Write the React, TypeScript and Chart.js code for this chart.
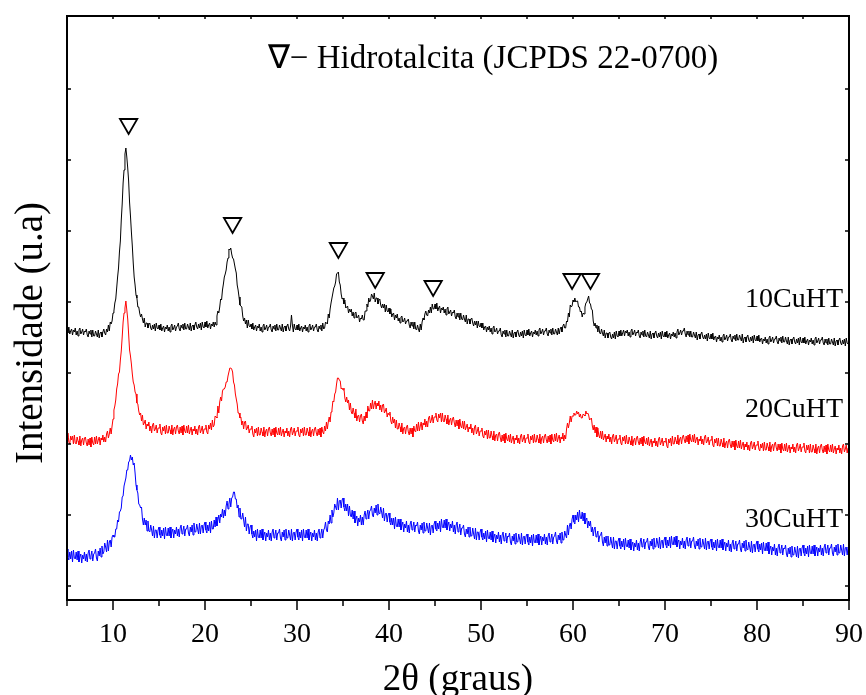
import React, { useEffect, useRef } from "react";
import { Chart, registerables } from "chart.js";
Chart.register(...registerables);

// Scan grid (2θ, degrees)
const twoThetaStart = 5;
const twoThetaStep = 0.1;

// Intensities (a.u., already offset per sample), one value per 0.1° from 5° to 90° (one row per degree)
const int10CuHT = [
  272, 267, 273, 266, 269, 271, 265, 270, 268, 272,
  265, 269, 264, 270, 272, 266, 268, 271, 265, 269,
  268, 271, 265, 263, 269, 266, 270, 263, 270, 264,
  264, 269, 266, 263, 270, 262, 267, 268, 263, 268,
  271, 267, 265, 271, 268, 275, 269, 278, 276, 279,
  287, 289, 297, 301, 312, 323, 332, 348, 359, 380,
  396, 417, 430, 446, 452, 443, 432, 419, 398, 384,
  368, 354, 337, 323, 315, 305, 302, 293, 293, 287,
  283, 286, 281, 277, 282, 273, 277, 277, 272, 276,
  277, 272, 270, 275, 271, 276, 269, 277, 272, 271,
  275, 270, 276, 269, 272, 274, 268, 273, 271, 275,
  269, 273, 268, 274, 276, 270, 272, 275, 269, 273,
  274, 277, 271, 269, 275, 272, 276, 270, 277, 271,
  271, 276, 273, 270, 277, 269, 274, 275, 270, 275,
  278, 273, 271, 276, 272, 277, 270, 278, 273, 272,
  278, 273, 279, 272, 275, 277, 271, 276, 274, 278,
  273, 278, 275, 284, 289, 287, 293, 301, 300, 310,
  316, 323, 326, 330, 338, 342, 351, 350, 352, 346,
  342, 341, 336, 331, 327, 315, 310, 303, 295, 294,
  293, 284, 279, 282, 276, 280, 272, 280, 274, 273,
  276, 271, 277, 270, 273, 275, 269, 274, 272, 276,
  269, 273, 268, 274, 276, 270, 272, 275, 269, 273,
  273, 276, 270, 268, 274, 271, 275, 269, 276, 270,
  270, 275, 272, 269, 276, 268, 273, 274, 269, 274,
  276, 271, 269, 274, 285, 275, 268, 276, 271, 270,
  275, 270, 276, 269, 272, 274, 268, 273, 271, 275,
  269, 273, 268, 274, 276, 270, 272, 275, 269, 273,
  273, 276, 270, 268, 274, 271, 275, 269, 277, 271,
  272, 278, 277, 276, 286, 282, 291, 297, 297, 307,
  312, 314, 318, 326, 327, 328, 318, 315, 306, 301,
  302, 296, 300, 292, 293, 294, 287, 291, 288, 291,
  284, 288, 282, 287, 288, 282, 283, 285, 278, 282,
  281, 285, 280, 280, 289, 289, 296, 293, 302, 298,
  300, 306, 304, 301, 307, 298, 302, 302, 296, 300,
  301, 295, 292, 296, 292, 296, 288, 295, 289, 288,
  292, 286, 291, 283, 286, 287, 280, 285, 282, 286,
  279, 282, 277, 283, 284, 278, 279, 282, 276, 279,
  279, 281, 275, 272, 278, 274, 278, 271, 278, 271,
  270, 275, 271, 268, 276, 270, 278, 282, 280, 286,
  289, 285, 284, 290, 287, 293, 287, 296, 291, 291,
  296, 291, 297, 289, 292, 294, 287, 292, 290, 293,
  287, 291, 285, 291, 293, 286, 288, 290, 284, 288,
  287, 290, 283, 281, 287, 283, 287, 280, 287, 281,
  280, 285, 281, 278, 285, 276, 281, 281, 276, 281,
  282, 277, 274, 279, 275, 279, 272, 279, 274, 273,
  277, 272, 277, 270, 273, 274, 268, 273, 270, 274,
  268, 272, 266, 272, 274, 268, 269, 272, 266, 269,
  269, 272, 265, 263, 269, 266, 270, 263, 270, 264,
  264, 269, 266, 263, 270, 262, 267, 268, 263, 268,
  270, 265, 263, 268, 264, 269, 262, 270, 265, 264,
  270, 265, 271, 264, 267, 269, 263, 268, 266, 270,
  265, 269, 264, 270, 272, 266, 268, 271, 265, 269,
  269, 272, 266, 264, 270, 267, 271, 265, 272, 266,
  266, 271, 268, 265, 272, 266, 271, 273, 268, 274,
  276, 272, 272, 279, 278, 287, 283, 295, 293, 294,
  300, 298, 302, 298, 299, 299, 293, 293, 288, 289,
  283, 287, 286, 293, 297, 298, 301, 304, 297, 296,
  291, 290, 279, 274, 277, 272, 275, 268, 274, 267,
  266, 271, 267, 264, 270, 262, 267, 267, 262, 267,
  268, 263, 261, 266, 262, 268, 261, 269, 264, 263,
  269, 264, 270, 264, 267, 270, 264, 269, 267, 270,
  264, 268, 263, 269, 271, 265, 267, 270, 264, 268,
  267, 270, 264, 262, 268, 265, 269, 263, 270, 264,
  263, 268, 265, 262, 269, 261, 266, 267, 262, 267,
  269, 264, 262, 267, 263, 268, 261, 269, 264, 263,
  268, 263, 269, 262, 265, 267, 261, 266, 264, 268,
  263, 267, 262, 268, 271, 265, 267, 270, 265, 269,
  269, 272, 266, 263, 269, 265, 269, 263, 269, 263,
  263, 268, 265, 262, 268, 260, 265, 266, 261, 266,
  268, 263, 261, 265, 261, 266, 259, 267, 262, 261,
  266, 261, 267, 260, 263, 264, 258, 263, 261, 265,
  259, 263, 258, 264, 266, 260, 262, 265, 259, 263,
  263, 266, 260, 258, 264, 261, 265, 259, 266, 260,
  260, 265, 262, 259, 266, 257, 262, 263, 258, 263,
  265, 260, 258, 263, 259, 264, 257, 265, 260, 259,
  264, 259, 265, 258, 261, 262, 256, 261, 259, 263,
  257, 261, 256, 262, 264, 258, 260, 263, 257, 261,
  261, 264, 258, 256, 262, 259, 263, 257, 264, 258,
  258, 263, 259, 256, 263, 255, 260, 261, 256, 261,
  263, 258, 256, 261, 257, 262, 255, 263, 258, 257,
  262, 257, 263, 256, 259, 261, 255, 260, 258, 262,
  256, 260, 255, 261, 263, 257, 259, 262, 256, 260,
  260, 263, 257, 255, 261, 257, 261, 255, 262, 256,
  256, 261, 258, 255, 262, 254, 259, 260, 255, 260,
  262, 257, 255, 260, 256, 261, 254, 262, 257, 256,
  258,
];

const int20CuHT = [
  163, 167, 158, 156, 164, 160, 164, 156, 165, 157,
  156, 163, 159, 155, 164, 154, 160, 162, 155, 162,
  163, 157, 154, 161, 155, 162, 153, 163, 157, 155,
  163, 156, 164, 156, 160, 163, 155, 162, 160, 165,
  158, 163, 158, 166, 169, 162, 166, 172, 166, 174,
  181, 190, 194, 200, 211, 216, 226, 228, 240, 249,
  263, 278, 287, 292, 299, 290, 281, 266, 250, 244,
  236, 226, 218, 215, 208, 206, 197, 196, 189, 185,
  187, 179, 185, 175, 177, 180, 171, 176, 174, 178,
  169, 174, 167, 175, 177, 169, 171, 175, 167, 172,
  172, 176, 167, 165, 173, 169, 174, 166, 175, 167,
  167, 174, 170, 166, 175, 165, 171, 173, 166, 173,
  175, 169, 166, 173, 167, 174, 165, 175, 169, 167,
  174, 167, 175, 166, 170, 173, 165, 171, 169, 174,
  166, 171, 165, 173, 175, 167, 170, 174, 166, 171,
  171, 175, 168, 166, 175, 171, 177, 170, 180, 173,
  175, 184, 183, 182, 194, 187, 198, 203, 199, 209,
  211, 211, 213, 218, 218, 224, 224, 232, 232, 231,
  228, 218, 215, 206, 201, 196, 187, 187, 182, 183,
  175, 179, 171, 178, 179, 170, 172, 175, 167, 171,
  171, 174, 166, 163, 171, 167, 172, 164, 173, 165,
  165, 172, 168, 164, 173, 163, 169, 171, 164, 171,
  173, 167, 164, 171, 165, 172, 163, 173, 167, 165,
  172, 165, 173, 164, 168, 171, 163, 169, 167, 172,
  164, 169, 163, 171, 173, 165, 168, 172, 164, 169,
  169, 173, 165, 163, 171, 167, 172, 164, 173, 165,
  165, 172, 168, 164, 173, 163, 169, 171, 164, 171,
  173, 167, 164, 171, 165, 172, 163, 173, 168, 166,
  174, 169, 178, 171, 178, 183, 178, 188, 190, 199,
  198, 206, 208, 216, 222, 222, 220, 219, 211, 212,
  210, 212, 202, 198, 203, 197, 200, 190, 197, 188,
  186, 192, 187, 182, 191, 179, 184, 185, 178, 184,
  186, 179, 176, 184, 179, 188, 182, 194, 189, 189,
  197, 191, 200, 191, 196, 199, 191, 197, 194, 199,
  190, 195, 188, 195, 196, 187, 189, 192, 183, 187,
  185, 188, 179, 176, 183, 177, 181, 172, 180, 171,
  171, 177, 173, 168, 177, 166, 172, 173, 166, 173,
  175, 168, 165, 172, 166, 172, 163, 174, 169, 168,
  176, 169, 178, 169, 174, 178, 170, 177, 175, 181,
  173, 179, 173, 182, 184, 177, 180, 185, 177, 183,
  183, 187, 180, 178, 186, 182, 187, 178, 187, 179,
  178, 185, 181, 176, 185, 175, 180, 182, 175, 181,
  183, 177, 173, 180, 174, 180, 171, 181, 174, 172,
  179, 171, 179, 170, 173, 176, 168, 173, 171, 176,
  167, 172, 165, 173, 175, 166, 169, 173, 164, 169,
  169, 172, 164, 162, 169, 165, 170, 161, 170, 162,
  162, 169, 164, 160, 169, 159, 165, 166, 159, 166,
  168, 162, 158, 165, 159, 166, 157, 167, 161, 159,
  165, 158, 166, 157, 161, 164, 156, 162, 160, 165,
  157, 162, 156, 164, 166, 158, 161, 165, 157, 162,
  162, 166, 158, 156, 164, 160, 165, 157, 166, 158,
  158, 165, 161, 157, 166, 156, 162, 164, 157, 164,
  166, 160, 157, 164, 158, 165, 156, 166, 160, 158,
  166, 159, 167, 158, 162, 165, 157, 163, 161, 167,
  159, 165, 161, 171, 177, 172, 177, 184, 178, 184,
  184, 187, 185, 185, 189, 186, 188, 183, 186, 182,
  182, 186, 185, 184, 189, 186, 187, 185, 180, 181,
  182, 174, 170, 175, 167, 173, 163, 172, 165, 162,
  169, 161, 169, 160, 163, 166, 158, 164, 161, 166,
  158, 163, 156, 164, 166, 158, 161, 165, 156, 161,
  161, 165, 157, 155, 163, 159, 164, 156, 165, 157,
  156, 163, 159, 155, 164, 154, 160, 162, 155, 162,
  164, 158, 155, 162, 156, 163, 154, 164, 158, 156,
  162, 155, 163, 154, 158, 161, 153, 159, 157, 162,
  154, 159, 153, 161, 163, 155, 158, 162, 154, 159,
  158, 162, 154, 152, 161, 157, 162, 154, 164, 156,
  156, 163, 159, 156, 165, 155, 161, 163, 156, 163,
  165, 160, 157, 164, 158, 165, 156, 166, 160, 158,
  165, 158, 166, 157, 161, 163, 155, 161, 159, 164,
  156, 161, 155, 163, 165, 157, 159, 163, 155, 160,
  160, 164, 155, 153, 161, 157, 162, 154, 162, 154,
  154, 161, 157, 153, 162, 152, 157, 159, 152, 159,
  161, 155, 152, 159, 153, 159, 150, 160, 154, 152,
  159, 152, 160, 151, 155, 158, 150, 156, 153, 158,
  150, 155, 149, 157, 159, 151, 154, 158, 150, 155,
  155, 159, 151, 149, 156, 152, 157, 149, 158, 150,
  150, 157, 153, 149, 158, 148, 154, 156, 149, 156,
  158, 152, 149, 156, 150, 156, 147, 157, 151, 149,
  156, 149, 157, 148, 152, 155, 147, 153, 151, 156,
  148, 153, 147, 155, 157, 149, 152, 156, 148, 153,
  153, 157, 149, 147, 155, 150, 155, 147, 156, 148,
  148, 155, 151, 147, 156, 146, 152, 154, 147, 154,
  156, 150, 147, 154, 148, 155, 146, 156, 150, 148,
  155, 148, 156, 147, 151, 154, 146, 152, 150, 155,
  147, 152, 146, 154, 156, 148, 151, 155, 147, 152,
  151,
];

const int30CuHT = [
  51, 43, 40, 48, 41, 49, 38, 50, 42, 41,
  48, 40, 49, 38, 43, 46, 37, 45, 41, 48,
  39, 46, 38, 47, 50, 41, 44, 49, 39, 46,
  47, 51, 42, 39, 49, 44, 52, 43, 54, 46,
  48, 57, 53, 48, 60, 49, 58, 60, 53, 63,
  65, 63, 63, 71, 71, 80, 78, 88, 89, 92,
  103, 104, 114, 114, 122, 130, 130, 138, 139, 145,
  140, 143, 135, 137, 127, 115, 110, 107, 96, 95,
  92, 93, 81, 75, 82, 75, 80, 69, 79, 69,
  68, 75, 70, 64, 74, 62, 70, 70, 62, 70,
  73, 65, 62, 70, 64, 72, 61, 73, 65, 64,
  72, 64, 73, 62, 68, 71, 62, 70, 66, 73,
  64, 71, 63, 72, 75, 66, 69, 74, 64, 71,
  71, 75, 67, 64, 73, 68, 75, 65, 77, 68,
  68, 76, 71, 66, 77, 66, 74, 75, 67, 75,
  78, 70, 67, 75, 69, 78, 67, 79, 71, 71,
  80, 73, 83, 74, 80, 85, 77, 86, 83, 91,
  82, 90, 84, 94, 99, 91, 96, 102, 93, 102,
  103, 108, 108, 101, 101, 92, 95, 83, 92, 81,
  81, 87, 80, 73, 83, 69, 76, 76, 66, 73,
  75, 66, 62, 69, 63, 70, 59, 71, 63, 62,
  70, 62, 71, 60, 65, 68, 59, 67, 63, 70,
  60, 67, 59, 68, 71, 62, 65, 70, 60, 67,
  67, 71, 62, 59, 68, 63, 70, 60, 71, 62,
  62, 70, 65, 60, 71, 59, 67, 68, 60, 68,
  71, 63, 60, 68, 62, 70, 59, 71, 63, 62,
  70, 62, 71, 60, 65, 68, 59, 67, 63, 70,
  60, 67, 59, 68, 71, 62, 66, 71, 62, 70,
  72, 78, 70, 68, 79, 76, 85, 77, 90, 83,
  87, 96, 93, 90, 102, 90, 99, 100, 92, 100,
  102, 93, 89, 96, 89, 96, 84, 94, 85, 83,
  90, 81, 89, 77, 81, 84, 74, 82, 78, 85,
  75, 83, 75, 85, 89, 81, 85, 90, 81, 89,
  90, 94, 85, 83, 92, 87, 95, 85, 96, 87,
  86, 93, 88, 82, 92, 79, 86, 87, 78, 85,
  87, 78, 75, 82, 75, 82, 71, 83, 74, 73,
  81, 73, 81, 70, 75, 78, 68, 76, 72, 79,
  68, 75, 67, 76, 79, 70, 73, 78, 68, 75,
  74, 78, 69, 66, 75, 70, 77, 67, 78, 69,
  69, 77, 72, 67, 77, 65, 74, 75, 67, 76,
  79, 71, 69, 77, 71, 79, 68, 81, 73, 72,
  80, 72, 81, 70, 75, 78, 69, 76, 72, 79,
  68, 75, 66, 75, 78, 68, 71, 76, 65, 72,
  72, 75, 66, 63, 71, 66, 73, 63, 73, 64,
  64, 72, 66, 61, 72, 60, 68, 68, 60, 68,
  71, 63, 60, 67, 61, 69, 58, 70, 62, 61,
  68, 60, 69, 58, 63, 66, 57, 65, 61, 68,
  58, 65, 56, 65, 68, 59, 62, 67, 57, 64,
  63, 67, 58, 55, 64, 59, 66, 56, 67, 58,
  58, 66, 61, 56, 67, 55, 63, 64, 56, 64,
  66, 58, 55, 63, 57, 65, 54, 66, 58, 57,
  65, 57, 66, 55, 60, 64, 55, 63, 59, 66,
  56, 63, 55, 64, 67, 58, 61, 66, 56, 63,
  64, 68, 59, 56, 65, 60, 67, 57, 68, 60,
  60, 69, 65, 62, 75, 65, 74, 77, 71, 81,
  85, 78, 76, 85, 80, 88, 78, 90, 82, 81,
  88, 79, 87, 76, 80, 82, 72, 79, 74, 79,
  68, 73, 64, 71, 73, 63, 65, 69, 58, 64,
  65, 68, 58, 54, 63, 57, 64, 54, 64, 55,
  55, 63, 57, 52, 63, 51, 59, 59, 51, 59,
  62, 54, 51, 59, 53, 61, 50, 62, 54, 53,
  60, 52, 61, 50, 55, 58, 49, 57, 53, 60,
  50, 57, 49, 58, 62, 53, 56, 61, 51, 58,
  58, 62, 53, 50, 59, 54, 61, 51, 62, 53,
  53, 62, 57, 52, 63, 51, 59, 60, 52, 60,
  63, 55, 52, 60, 54, 63, 52, 64, 56, 55,
  63, 55, 64, 53, 58, 60, 51, 59, 55, 62,
  52, 59, 51, 60, 63, 54, 57, 62, 52, 59,
  59, 63, 54, 51, 59, 54, 61, 51, 62, 53,
  53, 61, 56, 51, 62, 50, 58, 59, 51, 59,
  61, 53, 50, 58, 52, 60, 49, 61, 53, 52,
  60, 52, 61, 50, 55, 58, 49, 57, 53, 60,
  49, 56, 48, 57, 60, 51, 54, 59, 49, 56,
  56, 60, 51, 48, 57, 52, 59, 49, 60, 51,
  50, 58, 53, 48, 59, 47, 55, 56, 48, 56,
  59, 51, 48, 56, 50, 57, 46, 58, 50, 49,
  57, 49, 58, 46, 51, 54, 45, 53, 49, 56,
  45, 52, 44, 53, 56, 47, 50, 55, 45, 52,
  51, 55, 46, 43, 52, 46, 53, 43, 54, 45,
  45, 53, 48, 43, 54, 42, 51, 52, 44, 52,
  55, 47, 44, 52, 46, 54, 43, 55, 47, 46,
  54, 46, 55, 44, 49, 53, 44, 52, 48, 55,
  45, 52, 44, 53, 56, 47, 50, 55, 45, 52,
  52, 56, 47, 44, 53, 48, 55, 45, 56, 47,
  47, 55, 50, 45, 56, 44, 52, 53, 45, 53,
  50,
];

const seriesNames = ["10CuHT", "20CuHT", "30CuHT"];
const seriesColors = ["#000000", "#ff0000", "#0000ff"];
const seriesLabelY = [293, 183, 73];
const seriesLabelX = 89.35;

// Hydrotalcite reflections marked with ∇ (2θ, height)
const peakMarkerX = [11.7, 23.0, 34.5, 38.5, 44.8, 59.9, 61.9];
const peakMarkerY = [476, 377, 352, 322, 314, 321, 321];

const xMin = 5;
const xMax = 90;
const xTickStep = 5;
const yMin = 0;
const yMax = 584;
const yTickValues = [14, 85, 156, 227, 298, 369, 440, 511];

const titleText = "\u2207\u2212 Hidrotalcita (JCPDS 22-0700)";
const xTitle = "2\u03b8 (graus)";
const yTitle = "Intensidade (u.a)";

const FONT = '"Liberation Serif", "Times New Roman", Times, serif';

const toPoints = (arr: number[]) =>
  arr.map((y, i) => ({ x: twoThetaStart + i * twoThetaStep, y }));

const decorPlugin = {
  id: "decor",
  afterDraw(chart: any) {
    const { ctx, chartArea: a, scales } = chart;
    const xs = scales.x;
    const ys = scales.y;
    ctx.save();
    ctx.strokeStyle = "#000";
    ctx.lineWidth = 2;
    ctx.strokeRect(a.left, a.top, a.right - a.left, a.bottom - a.top);

    ctx.lineWidth = 1.5;
    ctx.beginPath();
    for (const t of xs.ticks) {
      const v = t.value;
      const px = xs.getPixelForValue(v);
      const major = v % 10 === 0;
      ctx.moveTo(px, a.bottom);
      ctx.lineTo(px, a.bottom + (major ? 10 : 6));
      ctx.moveTo(px, a.top);
      ctx.lineTo(px, a.top + 3);
    }
    for (const v of yTickValues) {
      const py = ys.getPixelForValue(v);
      ctx.moveTo(a.left, py);
      ctx.lineTo(a.left + 4, py);
      ctx.moveTo(a.right, py);
      ctx.lineTo(a.right - 4, py);
    }
    ctx.stroke();

    ctx.fillStyle = "#000";
    ctx.textBaseline = "alphabetic";

    // header text
    ctx.font = `33px ${FONT}`;
    ctx.textAlign = "center";
    ctx.fillText(titleText, 493, 68);

    // series labels
    ctx.font = `28px ${FONT}`;
    ctx.textAlign = "right";
    seriesNames.forEach((n, i) => {
      ctx.fillText(n, xs.getPixelForValue(seriesLabelX), ys.getPixelForValue(seriesLabelY[i]));
    });

    // axis titles
    ctx.font = `37px ${FONT}`;
    ctx.textAlign = "center";
    ctx.fillText(xTitle, (a.left + a.right) / 2, 690);

    ctx.save();
    ctx.translate(42, 333);
    ctx.rotate(-Math.PI / 2);
    ctx.font = `39px ${FONT}`;
    ctx.fillText(yTitle, 0, 0);
    ctx.restore();

    ctx.restore();
  },
};

export default function App() {
  const ref = useRef<HTMLCanvasElement | null>(null);
  useEffect(() => {
    if (!ref.current) return;
    const datasets: any[] = [int10CuHT, int20CuHT, int30CuHT].map((arr, i) => ({
      label: seriesNames[i],
      data: toPoints(arr),
      borderColor: seriesColors[i],
      borderWidth: 1,
      pointRadius: 0,
      tension: 0,
      fill: false,
    }));
    datasets.push({
      label: "Hidrotalcita",
      data: peakMarkerX.map((x, i) => ({ x, y: peakMarkerY[i] })),
      showLine: false,
      pointStyle: "triangle",
      rotation: 180,
      pointRadius: 10,
      pointBorderWidth: 1.8,
      pointBorderColor: "#000",
      pointBackgroundColor: "rgba(0,0,0,0)",
      clip: false,
    });
    const chart = new Chart(ref.current, {
      type: "line",
      data: { datasets },
      options: {
        responsive: false,
        devicePixelRatio: 1,
        animation: false,
        layout: { padding: { top: 16, right: 17, left: 0, bottom: 0 } },
        plugins: { legend: { display: false }, tooltip: { enabled: false } },
        scales: {
          x: {
            type: "linear",
            min: xMin,
            max: xMax,
            border: { display: false },
            grid: { display: false, drawTicks: false },
            ticks: {
              stepSize: xTickStep,
              autoSkip: false,
              maxRotation: 0,
              padding: 18,
              color: "#000",
              font: { family: FONT, size: 28 },
              callback: (v: any) => (Number(v) % 10 === 0 ? String(v) : ""),
            },
            afterFit: (s: any) => {
              s.height = 95;
              s.paddingLeft = 0;
              s.paddingRight = 0;
            },
          },
          y: {
            type: "linear",
            min: yMin,
            max: yMax,
            border: { display: false },
            grid: { display: false, drawTicks: false },
            ticks: { display: false },
            afterFit: (s: any) => {
              s.width = 67;
              s.paddingTop = 0;
              s.paddingBottom = 0;
            },
          },
        },
      },
      plugins: [decorPlugin],
    });
    return () => chart.destroy();
  }, []);
  return (
    <div style={{ position: "fixed", left: 0, top: 0, width: 866, height: 695, background: "#fff" }}>
      <canvas ref={ref} width={866} height={695} style={{ display: "block" }} />
    </div>
  );
}
